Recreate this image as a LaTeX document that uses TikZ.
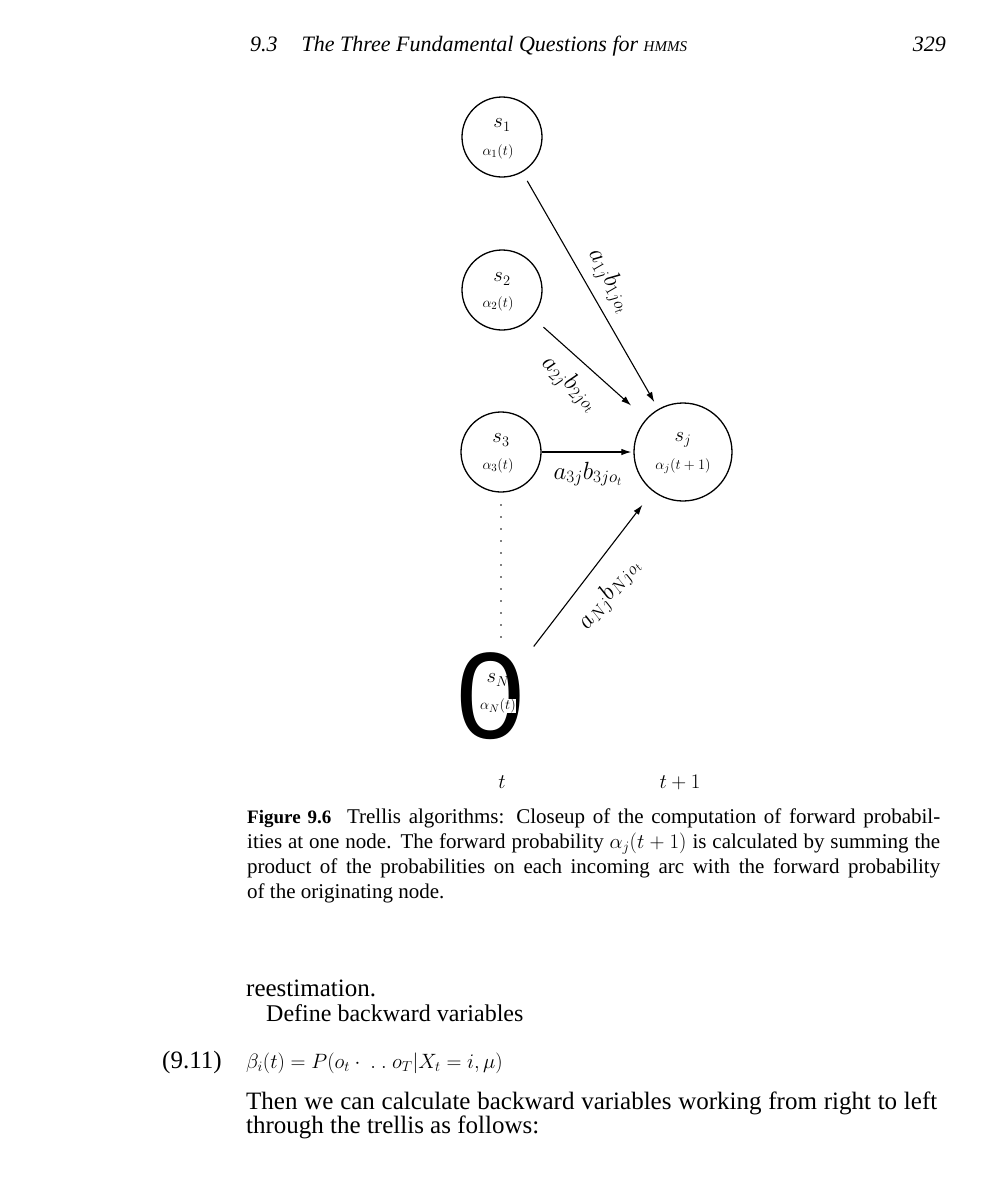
\documentclass[tikz,border=0pt]{standalone}
\usepackage{fontspec}
\setmainfont{Liberation Serif}
\newfontfamily\zerofont{Liberation Sans}
\usetikzlibrary{arrows.meta}
\newcommand{\fsz}[1]{\fontsize{#1}{#1}\selectfont}
\newcommand{\jline}[2]{\makebox[#1][s]{#2}}
\begin{document}
\begin{tikzpicture}[x=1pt,y=-1pt,
  state/.style={circle,draw,line width=1.3pt,minimum size=80pt,inner sep=0pt},
  bigstate/.style={state,minimum size=98pt},
  arc/.style={line width=1.1pt,-{Latex[length=10pt,width=6.5pt]}},
  stxt/.style={inner sep=0pt,font=\fsz{21}},
  atxt/.style={inner sep=0pt,font=\fsz{15.5}},
  wlbl/.style={inner sep=0pt,font=\fsz{24}},
  txt/.style={inner sep=0pt,anchor=base west},
  dotline/.style={line width=1.6pt,line cap=round,dash pattern=on 0pt off 12pt}]
\useasboundingbox (0,0) rectangle (1006,1181);
\fill[white] (0,0) rectangle (1006,1181);
% header
\node[txt,font=\fsz{22}\itshape] (h1) at (250,51) {9.3\hspace{24pt}The Three Fundamental Questions for {\fsz{15}HMMS}};
\node[inner sep=0pt,anchor=base east,font=\fsz{22}\itshape] (h2) at (946,51) {329};
% states
\node[state] (s1) at (502,137) {};
\node[stxt] (s1n) at (502,125) {$s_1$};
\node[atxt] (s1a) at (498,152) {$\alpha_1(t)$};
\node[state] (s2) at (502,290) {};
\node[stxt] (s2n) at (502,279) {$s_2$};
\node[atxt] (s2a) at (498,304) {$\alpha_2(t)$};
\node[state] (s3) at (501,452) {};
\node[stxt] (s3n) at (501,440) {$s_3$};
\node[atxt] (s3a) at (498,466) {$\alpha_3(t)$};
\node[bigstate] (sj) at (683,452) {};
\node[stxt] (sjn) at (683,440) {$s_j$};
\node[atxt] (sja) at (683,466) {$\alpha_j(t+1)$};
\node[state,draw=none] (sN) at (498,693) {};
\node[inner sep=0pt,font=\zerofont\fsz{123}] (zero) at (491,696) {0};
\node[stxt] (sNn) at (498,680) {$s_N$};
\node[atxt,fill=white] (sNa) at (498,706) {$\alpha_N(t)$};
% dotted
\coordinate (dotend) at (501,640);
\draw[dotline] (501,505) -- (dotend);
% arcs
\draw[arc,shorten <=10pt,shorten >=8pt] (s1) -- (sj);
\draw[arc,shorten <=15pt,shorten >=20pt] (s2) -- (sj);
\draw[arc,shorten >=2pt] (s3) -- (sj);
\draw[arc,shorten <=18pt,shorten >=17pt] (sN) -- (sj);
\node[wlbl,rotate=-60] (l1) at (610,281) {$a_{1j}b_{1jo_t}$};
\node[wlbl,rotate=-41.6] (l2) at (570,384) {$a_{2j}b_{2jo_t}$};
\node[wlbl] (l3) at (588,474) {$a_{3j}b_{3jo_t}$};
\node[wlbl,rotate=52.5] (l4) at (609,594) {$a_{Nj}b_{Njo_t}$};
% time labels
\node[inner sep=0pt,anchor=base,font=\fsz{22}] (tl) at (502,788) {$t$};
\node[inner sep=0pt,anchor=base,font=\fsz{22}] (t1) at (680,788) {$t+1$};
% caption
\node[txt,font=\fsz{21}] (c1) at (247,823) {\jline{693pt}{{\fsz{19}\bfseries Figure 9.6}\hspace{8pt} Trellis algorithms: Closeup of the computation of forward probabil-}};
\node[txt,font=\fsz{21}] (c2) at (247,848) {\jline{693pt}{ities at one node. The forward probability $\alpha_j(t+1)$ is calculated by summing the}};
\node[txt,font=\fsz{21}] (c3) at (247,873) {\jline{693pt}{product of the probabilities on each incoming arc with the forward probability}};
\node[txt,font=\fsz{21}] (c4) at (247,898) {of the originating node.};
% body
\node[txt,font=\fsz{25}] (b1) at (246,996) {reestimation.};
\node[txt,font=\fsz{24}] (b2) at (266,1021) {Define backward variables};
\node[txt,font=\fsz{25}] (eqn) at (162,1068) {(9.11)};
\node[txt,font=\fsz{21}] (eq) at (246,1068) {$\beta_i(t) = P(o_t \cdot\ .\ .\ o_T|X_t = i, \mu)$};
\node[txt,font=\fsz{25}] (b3) at (246,1109) {\jline{691pt}{Then we can calculate backward variables working from right to left}};
\node[txt,font=\fsz{25}] (b4) at (246,1133) {through the trellis as follows:};
\end{tikzpicture}
\end{document}
